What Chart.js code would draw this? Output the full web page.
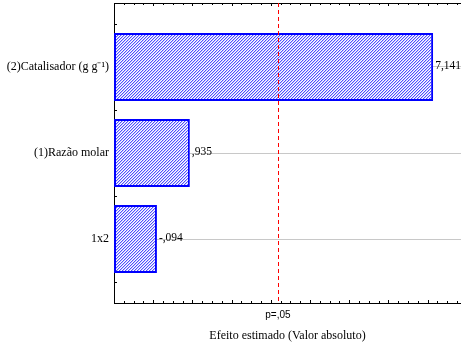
<!DOCTYPE html>
<html>
<head>
<meta charset="utf-8">
<script src="https://cdn.jsdelivr.net/npm/chart.js@4/dist/chart.umd.min.js"></script>
<style>
  html, body { margin: 0; padding: 0; background: #fff; }
  #wrap { width: 461px; height: 345px; }
</style>
</head>
<body>
<div id="wrap"><canvas id="c"></canvas></div>
<script>
// Pareto chart of standardized effects
const categories = ['(2)Catalisador (g g\u207B\u00B9)', '(1)Razão molar', '1x2'];
const effects = [7.141, 0.935, -0.094];
const pCrit = 3.182;            // t critical value, p = .05
const pLabel = 'p=,05';
const xMin = -1;
const xMax = 7.852;
const xTitle = 'Efeito estimado (Valor absoluto)';

// "0,935" -> ",935", "-0,094" -> "-,094"
function fmt(v) {
  return v.toFixed(3).replace('.', ',').replace(/^(-?)0,/, '$1,');
}

// diagonal hatch fill
function hatch() {
  const t = document.createElement('canvas');
  t.width = 3; t.height = 3;
  const g = t.getContext('2d');
  g.fillStyle = '#ffffff';
  g.fillRect(0, 0, 3, 3);
  for (let y = 0; y < 3; y++) {
    g.fillStyle = '#5050ff';
    g.fillRect((2 - y + 3) % 3, y, 1, 1);
    g.fillStyle = '#c4c4ff';
    g.fillRect((3 - y + 3) % 3, y, 1, 1);
  }
  return g.createPattern(t, 'repeat');
}

const serif = 'Liberation Serif, Times New Roman, serif';
const sans = 'Liberation Sans, Arial, sans-serif';

function noPad(s) {
  s.paddingTop = 0; s.paddingBottom = 0;
  s.paddingLeft = 0; s.paddingRight = 0;
}

const frame = {
  id: 'frame',
  afterDatasetsDraw(chart) {
    const { ctx, chartArea: a, scales: { x, y } } = chart;
    ctx.save();
    ctx.strokeStyle = '#000';
    ctx.lineWidth = 1;
    // top edge
    ctx.beginPath();
    ctx.moveTo(a.left, a.top + 0.5);
    ctx.lineTo(a.right, a.top + 0.5);
    ctx.stroke();
    // inward ticks on bottom and top edges
    ctx.beginPath();
    for (let i = 0; xMin + i * 0.25 <= xMax + 1e-9; i++) {
      const v = xMin + i * 0.25;
      const px = Math.round(x.getPixelForValue(v)) + 0.5;
      const len = (i % 4 === 0) ? 3 : 2;
      ctx.moveTo(px, a.bottom);
      ctx.lineTo(px, a.bottom - len);
      ctx.moveTo(px, a.top);
      ctx.lineTo(px, a.top + len);
    }
    // inward ticks on left edge at category boundaries
    for (let i = 0; i <= categories.length; i++) {
      const py = Math.round(y.getPixelForValue(i - 0.5)) + 0.5;
      ctx.moveTo(a.left, py);
      ctx.lineTo(a.left + 3, py);
    }
    ctx.stroke();
    ctx.restore();

    // critical value line, dashed
    ctx.save();
    const cx = Math.round(x.getPixelForValue(pCrit)) + 0.5;
    ctx.strokeStyle = '#ff0000';
    ctx.lineWidth = 1;
    ctx.setLineDash([4, 3]);
    ctx.beginPath();
    ctx.moveTo(cx, a.top);
    ctx.lineTo(cx, a.bottom);
    ctx.stroke();
    ctx.restore();

    // effect values at bar ends
    ctx.save();
    ctx.fillStyle = '#000';
    ctx.font = '11.5px ' + serif;
    ctx.textAlign = 'left';
    ctx.textBaseline = 'middle';
    chart.getDatasetMeta(0).data.forEach((el, i) => {
      ctx.fillText(fmt(effects[i]), el.x + 2, el.y - 1);
    });
    ctx.restore();
  }
};

Chart.defaults.color = '#000';

new Chart(document.getElementById('c'), {
  type: 'bar',
  data: {
    datasets: [{
      data: effects.map((v, i) => ({ x: Math.abs(v), y: i })),
      base: xMin,
      backgroundColor: hatch(),
      borderColor: '#0000ff',
      borderWidth: 2,
      borderSkipped: false,
      categoryPercentage: 1,
      barPercentage: 0.79
    }]
  },
  options: {
    indexAxis: 'y',
    responsive: true,
    maintainAspectRatio: false,
    animation: false,
    layout: { padding: { top: 3, left: 0, right: 0, bottom: 0 } },
    plugins: { legend: { display: false }, tooltip: { enabled: false } },
    scales: {
      x: {
        type: 'linear',
        position: 'bottom',
        min: xMin,
        max: xMax,
        offset: false,
        grid: { display: false, drawTicks: false, tickLength: 0, offset: false },
        border: { display: true, color: '#000', width: 1 },
        afterBuildTicks: s => { s.ticks = [{ value: pCrit }]; },
        ticks: {
          callback: () => pLabel,
          font: { family: sans, size: 10 },
          color: '#000',
          padding: 6,
          maxRotation: 0
        },
        title: {
          display: true,
          text: xTitle,
          font: { family: serif, size: 12 },
          color: '#000',
          padding: { top: 0, bottom: 2 }
        },
        afterFit: s => { s.height = 42; noPad(s); }
      },
      y: {
        type: 'linear',
        position: 'left',
        min: -0.744,
        max: categories.length - 1 + 0.744,
        reverse: true,
        offset: false,
        grid: { color: '#c8c8c8', lineWidth: 1, drawTicks: false, tickLength: 0, offset: false },
        border: { display: true, color: '#000', width: 1 },
        afterBuildTicks: s => { s.ticks = categories.map((c, i) => ({ value: i })); },
        ticks: {
          callback: v => categories[v],
          font: { family: serif, size: 12 },
          color: '#000',
          padding: 5
        },
        afterFit: s => { s.width = 114; noPad(s); }
      }
    }
  },
  plugins: [frame]
});
</script>
</body>
</html>
